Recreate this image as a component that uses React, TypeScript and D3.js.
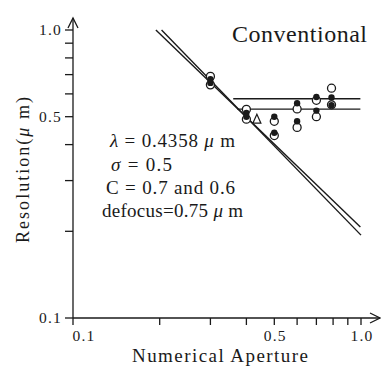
import * as d3 from 'd3'

// axis ticks
const xTicks = [0.1, 0.2, 0.3, 0.4, 0.5, 0.6, 0.7, 0.8, 0.9, 1.0]
const yTicks = [0.1, 0.2, 0.3, 0.4, 0.5, 0.6, 0.7, 0.8, 0.9, 1.0]
const xLabels = ['0.1', '0.5', '1.0']
const yLabels = ['0.1', '0.5', '1.0']

// measured points (open circles)
const openNA = [0.3, 0.3, 0.4, 0.4, 0.5, 0.5, 0.6, 0.6, 0.7, 0.7, 0.79, 0.79]
const openRes = [0.69, 0.645, 0.53, 0.49, 0.482, 0.43, 0.532, 0.459, 0.57, 0.5, 0.628, 0.55]

// simulated points (filled dots)
const filledNA = [0.3, 0.3, 0.4, 0.4, 0.5, 0.5, 0.6, 0.6, 0.7, 0.7, 0.79, 0.79]
const filledRes = [0.675, 0.655, 0.515, 0.5, 0.5, 0.44, 0.557, 0.482, 0.585, 0.525, 0.583, 0.548]

// triangle marker
const triNA = [0.435]
const triRes = [0.49]

// k1*lambda/NA lines (endpoints)
const diagA: [number, number][] = [[0.194, 1.0], [0.995, 0.207]]
const diagB: [number, number][] = [[0.203, 1.0], [1.0, 0.194]]

// horizontal limits
const flatA: [number, number][] = [[0.36, 0.577], [0.995, 0.577]]
const flatB: [number, number][] = [[0.372, 0.531], [0.995, 0.531]]

const FONT = '"Liberation Serif", "Times New Roman", serif'
const INK = '#1a1a1a'

export default function App() {
  const width = 381
  const height = 368

  const x = d3.scaleLog().domain([0.1, 1.0]).range([73, 361])
  const y = d3.scaleLog().domain([0.1, 1.0]).range([318, 30])

  const line = d3.line<[number, number]>()
    .x(d => x(d[0]))
    .y(d => y(d[1]))

  const x0 = x(0.1)
  const y0 = y(0.1)

  return (
    <svg width={width} height={height} style={{ position: 'absolute', left: 0, top: 0, background: '#fff' }}
      fontFamily={FONT} fill={INK}>
      {/* axes */}
      <line x1={x0} y1={y0} x2={380} y2={y0} stroke={INK} strokeWidth={1.3} />
      <line x1={x0} y1={y0} x2={x0} y2={18} stroke={INK} strokeWidth={1.3} />
      <path d={`M${x0 - 5},28 L${x0},18 L${x0 + 5},28`} fill="none" stroke={INK} strokeWidth={1.3} />
      <path d={`M370,${y0 - 5} L380,${y0} L370,${y0 + 5}`} fill="none" stroke={INK} strokeWidth={1.3} />

      {xTicks.map(t => (
        <line key={'xt' + t} x1={x(t)} x2={x(t)} y1={y0} y2={y0 + 7} stroke={INK} strokeWidth={1.3} />
      ))}
      {yTicks.map(t => (
        <line key={'yt' + t} x1={x0 - 8} x2={x0} y1={y(t)} y2={y(t)} stroke={INK} strokeWidth={1.3} />
      ))}

      {xLabels.map((l, i) => (
        <text key={'xl' + l} x={i === 0 ? x(+l) + 11 : x(+l) + 1} y={y0 + 23} fontSize={15.5}
          textAnchor="middle" letterSpacing={1.2}>{l}</text>
      ))}
      {yLabels.map(l => (
        <text key={'yl' + l} x={x0 - 11} y={y(+l) + 5} fontSize={15.5} textAnchor="end" letterSpacing={1.2}>{l}</text>
      ))}

      <text x={220} y={362} fontSize={19} textAnchor="middle" textLength={176}>Numerical  Aperture</text>
      <text transform="translate(29,170) rotate(-90)" fontSize={18} textAnchor="middle" textLength={146}>
        Resolution(<tspan fontStyle="italic">μ</tspan> m)
      </text>

      <text x={232} y={42} fontSize={24} textLength={135}>Conventional</text>

      {/* condition text */}
      <text x={110} y={147} fontSize={19} textLength={125}><tspan fontStyle="italic">λ</tspan>  = 0.4358 <tspan fontStyle="italic">μ</tspan> m</text>
      <text x={111} y={171} fontSize={19} textLength={61}><tspan fontStyle="italic">σ</tspan>  = 0.5</text>
      <text x={106} y={194} fontSize={19} textLength={129}>C  = 0.7 and 0.6</text>
      <text x={102} y={217} fontSize={19} textLength={141}>defocus=0.75 <tspan fontStyle="italic">μ</tspan> m</text>

      {/* lines */}
      {[diagA, diagB, flatA, flatB].map((d, i) => (
        <path key={'ln' + i} d={line(d) as string} fill="none" stroke={INK} strokeWidth={1.4} />
      ))}

      {/* markers */}
      {openNA.map((na, i) => (
        <circle key={'o' + i} cx={x(na)} cy={y(openRes[i])} r={4} fill="#fff" stroke={INK} strokeWidth={1.3} />
      ))}
      {filledNA.map((na, i) => (
        <circle key={'f' + i} cx={x(na)} cy={y(filledRes[i])} r={3.2} fill={INK} />
      ))}
      {triNA.map((na, i) => {
        const cx = x(na)
        const cy = y(triRes[i])
        return (
          <path key={'t' + i} d={`M${cx},${cy - 5} L${cx + 4},${cy + 4} L${cx - 4},${cy + 4} Z`}
            fill="#fff" stroke={INK} strokeWidth={1.2} />
        )
      })}
    </svg>
  )
}
